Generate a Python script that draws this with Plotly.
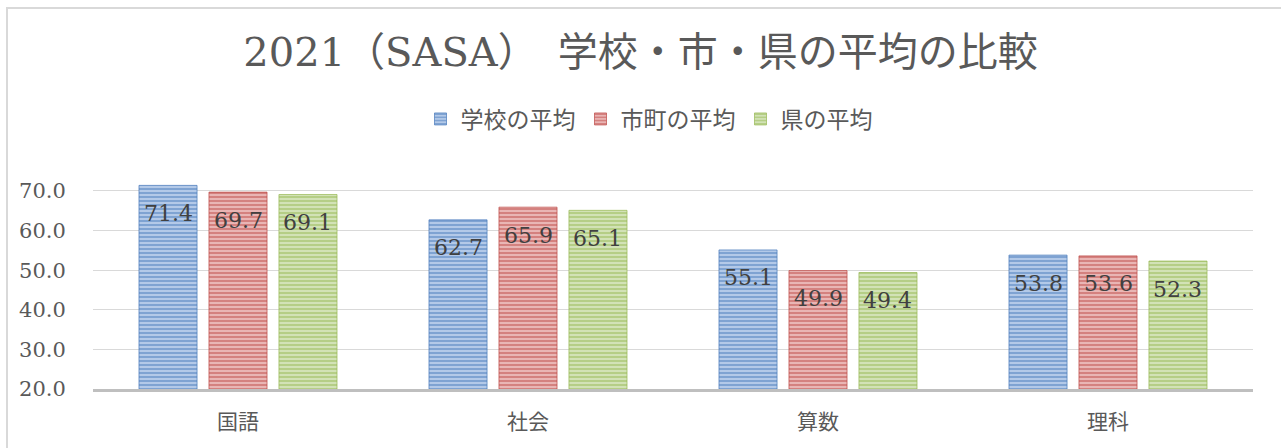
import plotly.graph_objects as go

categories = ["国語", "社会", "算数", "理科"]
school = [71.4, 62.7, 55.1, 53.8]
city = [69.7, 65.9, 49.9, 53.6]
pref = [69.1, 65.1, 49.4, 52.3]
series_names = ["学校の平均", "市町の平均", "県の平均"]
tick_vals = [20, 30, 40, 50, 60, 70]

FONT = "DejaVu Serif, Noto Sans CJK JP"
GRAY = "#595959"

styles = [
    ("#4679ba", "#b8cdea"),
    ("#bd4845", "#ebbab9"),
    ("#96b852", "#d5e5bb"),
]

W, H = 1281, 448
L, R, T, B = 93, 28, 183, 59
pw, ph = W - L - R, H - T - B
BARGAP = 0.276
slot = pw / len(categories) * (1 - BARGAP) / len(series_names)

def px_x(x):
    return (x - L) / pw

def px_y(y):
    return (H - B - y) / ph

fig = go.Figure()
annotations = []
all_series = [school, city, pref]
for i, (name, vals, (fg, bg)) in enumerate(zip(series_names, all_series, styles)):
    fig.add_trace(go.Bar(
        name=name, x=categories, y=vals,
        marker=dict(
            color=bg,
            line=dict(color=fg, width=0.7),
            pattern=dict(shape="-", fgcolor=fg, bgcolor=bg, size=4, solidity=0.55),
        ),
    ))
    for c, v in zip(categories, vals):
        annotations.append(dict(
            x=c, y=v, xref="x", yref="y",
            text=f"{v:.1f}", showarrow=False,
            xshift=(i - 1) * slot, yshift=-28,
            xanchor="center", yanchor="middle",
            font=dict(family=FONT, size=22, color="#404040"),
        ))

fig.update_layout(
    width=W, height=H,
    margin=dict(l=L, r=R, t=T, b=B, autoexpand=False),
    paper_bgcolor="white", plot_bgcolor="white",
    barmode="group", bargap=BARGAP, bargroupgap=0.17,
    title=dict(
        text="2021（SASA）　学校・市・県の平均の比較",
        x=0.5, xref="container", xanchor="center",
        y=1 - 52 / H, yref="container", yanchor="middle",
        font=dict(family=FONT, size=40, color=GRAY),
    ),
    legend=dict(
        orientation="h", xref="container", yref="container",
        x=649 / W, xanchor="center",
        y=1 - 119 / H, yanchor="middle",
        font=dict(family=FONT, size=23, color=GRAY),
        itemwidth=30, traceorder="normal",
    ),
    xaxis=dict(
        automargin=False,
        showgrid=False, showline=True, linecolor="#bfbfbf", linewidth=3,
        tickfont=dict(family=FONT, size=21, color=GRAY),
        ticks="outside", ticklen=12, tickcolor="rgba(0,0,0,0)",
    ),
    yaxis=dict(
        automargin=False,
        range=[20, 72], tickvals=tick_vals,
        tickformat=".1f",
        showgrid=True, gridcolor="#d9d9d9", gridwidth=1,
        zeroline=False, showline=False,
        tickfont=dict(family=FONT, size=21, color=GRAY),
        ticks="outside", ticklen=22, tickcolor="rgba(0,0,0,0)",
    ),
    annotations=annotations,
    shapes=[dict(
        type="rect", xref="paper", yref="paper",
        x0=px_x(7), x1=px_x(1295), y0=px_y(8), y1=px_y(470),
        line=dict(color="#d9d9d9", width=2), fillcolor="rgba(0,0,0,0)",
        layer="below",
    )],
)

fig.write_html(
    "out.html",
    config={"displayModeBar": False},
    post_script="document.body.style.margin='0';document.body.style.padding='0';",
)
